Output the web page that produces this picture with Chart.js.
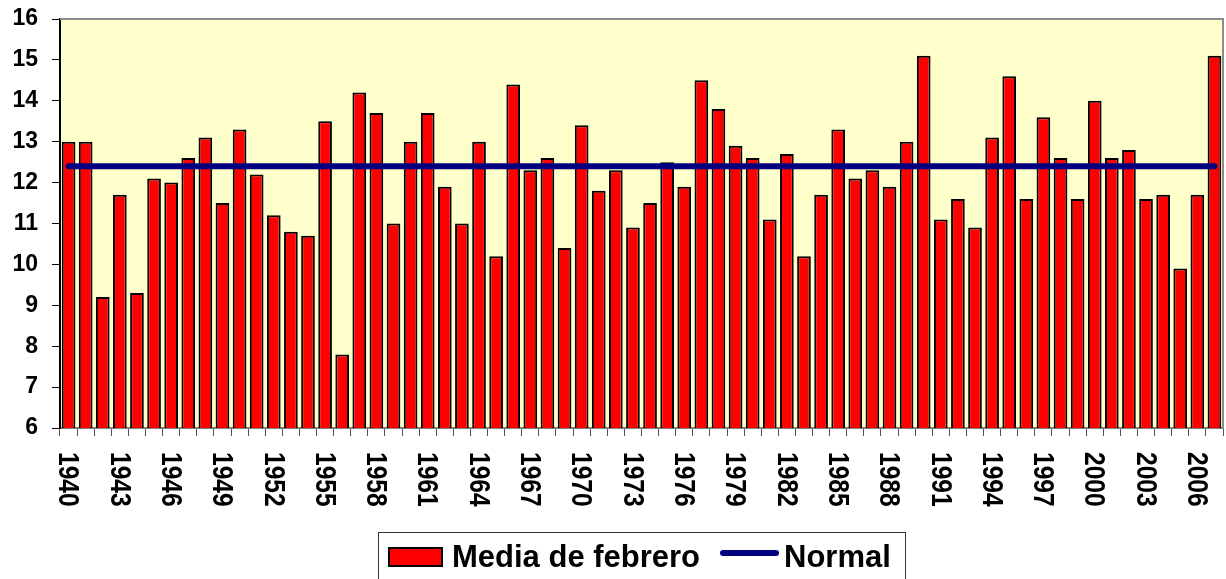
<!DOCTYPE html>
<html>
<head>
<meta charset="utf-8">
<script src="https://cdn.jsdelivr.net/npm/chart.js@4/dist/chart.umd.min.js"></script>
<style>
html,body{margin:0;padding:0;background:#ffffff;}
#wrap{width:1226px;height:579px;position:relative;}
</style>
</head>
<body>
<div id="wrap"><canvas id="c" width="1226" height="579"></canvas></div>
<script>
const years = ['1940','1941','1942','1943','1944','1945','1946','1947','1948','1949',
  '1950','1951','1952','1953','1954','1955','1956','1957','1958','1959',
  '1960','1961','1962','1963','1964','1965','1966','1967','1968','1969',
  '1970','1971','1972','1973','1974','1975','1976','1977','1978','1979',
  '1980','1981','1982','1983','1984','1985','1986','1987','1988','1989',
  '1990','1991','1992','1993','1994','1995','1996','1997','1998','1999',
  '2000','2001','2002','2003','2004','2005','2006','2007'];

const febMean = [13.0,13.0,9.2,11.7,9.3,12.1,12.0,12.6,13.1,11.5,
  13.3,12.2,11.2,10.8,10.7,13.5,7.8,14.2,13.7,11.0,
  13.0,13.7,11.9,11.0,13.0,10.2,14.4,12.3,12.6,10.4,
  13.4,11.8,12.3,10.9,11.5,12.5,11.9,14.5,13.8,12.9,
  12.6,11.1,12.7,10.2,11.7,13.3,12.1,12.3,11.9,13.0,
  15.1,11.1,11.6,10.9,13.1,14.6,11.6,13.6,12.6,11.6,
  14.0,12.6,12.8,11.6,11.7,9.9,11.7,15.1];

const normal = [12.4,12.4,12.4,12.4,12.4,12.4,12.4,12.4,12.4,12.4,
  12.4,12.4,12.4,12.4,12.4,12.4,12.4,12.4,12.4,12.4,
  12.4,12.4,12.4,12.4,12.4,12.4,12.4,12.4,12.4,12.4,
  12.4,12.4,12.4,12.4,12.4,12.4,12.4,12.4,12.4,12.4,
  12.4,12.4,12.4,12.4,12.4,12.4,12.4,12.4,12.4,12.4,
  12.4,12.4,12.4,12.4,12.4,12.4,12.4,12.4,12.4,12.4,
  12.4,12.4,12.4,12.4,12.4,12.4,12.4,12.4];

const xTickLabels = ['1940','1943','1946','1949','1952','1955','1958','1961','1964','1967',
  '1970','1973','1976','1979','1982','1985','1988','1991','1994','1997','2000','2003','2006'];

const yMin = 6, yMax = 16, yStep = 1;

const seriesNames = ['Media de febrero', 'Normal'];

const FONT = '"Liberation Sans", Arial, Helvetica, sans-serif';

const plotDecor = {
  id: 'plotDecor',
  beforeDraw(chart) {
    const a = chart.chartArea, ctx = chart.ctx;
    ctx.save();
    ctx.fillStyle = '#FFFFCC';
    ctx.fillRect(a.left, a.top, a.right - a.left, a.bottom - a.top);
    ctx.restore();
  },
  beforeDatasetsDraw(chart) {
    const a = chart.chartArea, ctx = chart.ctx;
    ctx.save();
    ctx.strokeStyle = '#8c8c8c';
    ctx.lineWidth = 2;
    ctx.beginPath();
    ctx.moveTo(a.left, a.top);
    ctx.lineTo(a.right, a.top);
    ctx.lineTo(a.right, a.bottom);
    ctx.stroke();
    ctx.restore();
  },
  afterDraw(chart) {
    const ctx = chart.ctx;
    const xs = chart.scales.x;
    // rotated category labels, reading top to bottom
    ctx.save();
    ctx.fillStyle = '#000';
    ctx.font = 'bold 30px ' + FONT;
    ctx.textAlign = 'left';
    ctx.textBaseline = 'middle';
    years.forEach((y, i) => {
      if (xTickLabels.indexOf(y) < 0) return;
      const px = xs.getPixelForValue(i);
      ctx.save();
      ctx.translate(px - 1, 452);
      ctx.rotate(Math.PI / 2);
      ctx.scale(0.82, 1);
      ctx.fillText(y, 0, 0);
      ctx.restore();
    });
    ctx.restore();

    // legend
    ctx.save();
    ctx.strokeStyle = '#333';
    ctx.lineWidth = 1;
    ctx.strokeRect(378.5, 532.5, 527, 60);
    ctx.fillStyle = '#FF0000';
    ctx.fillRect(388, 547, 55, 20);
    ctx.strokeStyle = '#000';
    ctx.lineWidth = 2;
    ctx.strokeRect(389, 548, 53, 18);
    ctx.fillStyle = '#000';
    ctx.font = 'bold 31px ' + FONT;
    ctx.textAlign = 'left';
    ctx.textBaseline = 'alphabetic';
    ctx.fillText(seriesNames[0], 452, 567);
    ctx.strokeStyle = '#000080';
    ctx.lineWidth = 6;
    ctx.lineCap = 'round';
    ctx.beginPath();
    ctx.moveTo(723, 553);
    ctx.lineTo(776, 553);
    ctx.stroke();
    ctx.fillText(seriesNames[1], 784, 567);
    ctx.restore();
  }
};

new Chart(document.getElementById('c'), {
  data: {
    labels: years,
    datasets: [
      {
        type: 'line',
        label: seriesNames[1],
        data: normal,
        borderColor: '#000080',
        backgroundColor: '#000080',
        borderWidth: 6,
        borderCapStyle: 'round',
        pointRadius: 0,
        pointHoverRadius: 0,
        tension: 0,
        order: 0
      },
      {
        type: 'bar',
        label: seriesNames[0],
        data: febMean,
        backgroundColor: '#FF0000',
        borderColor: '#000000',
        borderWidth: 2,
        borderSkipped: false,
        barPercentage: 0.8,
        categoryPercentage: 1.0,
        order: 1
      }
    ]
  },
  options: {
    responsive: false,
    animation: false,
    devicePixelRatio: 1,
    layout: { padding: { top: 19, right: 3, left: 0, bottom: 0 } },
    plugins: {
      legend: { display: false },
      tooltip: { enabled: false },
      title: { display: false }
    },
    scales: {
      x: {
        type: 'category',
        offset: true,
        ticks: { display: false },
        grid: {
          offset: true,
          drawOnChartArea: false,
          drawTicks: true,
          tickLength: 8,
          color: '#555555',
          lineWidth: 1
        },
        border: { display: true, color: '#808080', width: 2 },
        afterFit(scale) { scale.height = 151; scale.paddingLeft = 0; scale.paddingRight = 0; }
      },
      y: {
        type: 'linear',
        min: yMin,
        max: yMax,
        ticks: {
          stepSize: yStep,
          color: '#000',
          font: { family: FONT, size: 23, weight: 'bold' },
          padding: 14
        },
        grid: {
          drawOnChartArea: false,
          drawTicks: true,
          tickLength: 8,
          color: '#000',
          lineWidth: 1
        },
        border: { display: true, color: '#000', width: 2 },
        afterFit(scale) { scale.width = 60; scale.paddingTop = 0; scale.paddingBottom = 0; }
      }
    }
  },
  plugins: [plotDecor]
});
</script>
</body>
</html>
